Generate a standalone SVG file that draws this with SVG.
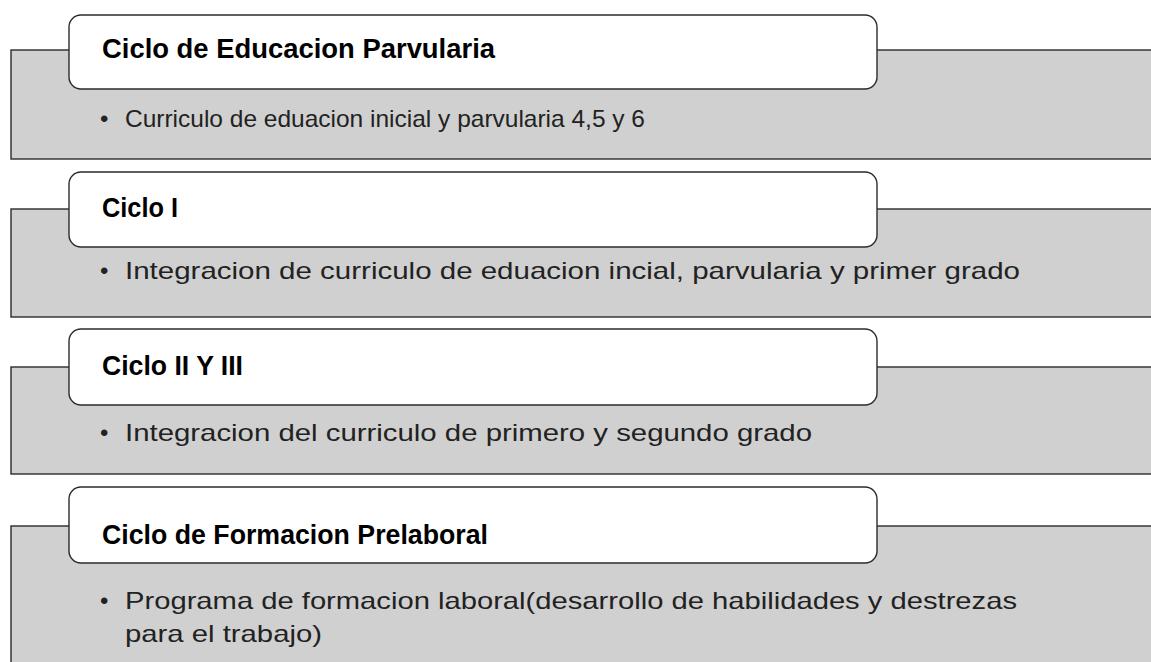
<svg xmlns="http://www.w3.org/2000/svg" width="1151" height="662" viewBox="0 0 1151 662">
<style>
.band{fill:#d0d0d0;stroke:#2b2b2b;stroke-width:1.4}
.head{fill:#ffffff;stroke:#2b2b2b;stroke-width:1.4}
.title{font-family:"Liberation Sans",Arial,sans-serif;font-weight:bold;font-size:27px;fill:#000}
.body{font-family:"Liberation Sans",Arial,sans-serif;font-size:24px;fill:#222}
</style>
<rect x="0" y="0" width="1151" height="662" fill="#ffffff"/>
<g id="connectors"></g>
<g id="node1">
<rect class="band" x="11" y="50" width="1200" height="109"/>
<rect class="head" x="69" y="15" width="808" height="74" rx="12" ry="12"/>
<text class="title" x="102" y="57.5" textLength="393" lengthAdjust="spacingAndGlyphs">Ciclo de Educacion Parvularia</text>
<text class="body" x="100" y="127">•<tspan x="125" textLength="520" lengthAdjust="spacingAndGlyphs">Curriculo de eduacion inicial y parvularia 4,5 y 6</tspan></text>
</g>
<g id="node2">
<rect class="band" x="11" y="209" width="1200" height="108"/>
<rect class="head" x="69" y="172" width="808" height="75" rx="12" ry="12"/>
<text class="title" x="102" y="217" textLength="76" lengthAdjust="spacingAndGlyphs">Ciclo I</text>
<text class="body" x="100" y="279">•<tspan x="125" textLength="895" lengthAdjust="spacingAndGlyphs">Integracion de curriculo de eduacion incial, parvularia y primer grado</tspan></text>
</g>
<g id="node3">
<rect class="band" x="11" y="367" width="1200" height="107"/>
<rect class="head" x="69" y="329" width="808" height="76" rx="12" ry="12"/>
<text class="title" x="102" y="375" textLength="141" lengthAdjust="spacingAndGlyphs">Ciclo II Y III</text>
<text class="body" x="100" y="441">•<tspan x="125" textLength="687" lengthAdjust="spacingAndGlyphs">Integracion del curriculo de primero  y segundo grado</tspan></text>
</g>
<g id="node4">
<rect class="band" x="11" y="526" width="1200" height="200"/>
<rect class="head" x="69" y="487" width="808" height="76" rx="12" ry="12"/>
<text class="title" x="102" y="544" textLength="386" lengthAdjust="spacingAndGlyphs">Ciclo de Formacion Prelaboral</text>
<text class="body" x="100" y="609">•<tspan x="125" textLength="892" lengthAdjust="spacingAndGlyphs">Programa de formacion laboral(desarrollo de habilidades y destrezas</tspan></text>
<text class="body" x="125" y="642" textLength="197" lengthAdjust="spacingAndGlyphs">para el trabajo)</text>
</g>
</svg>
